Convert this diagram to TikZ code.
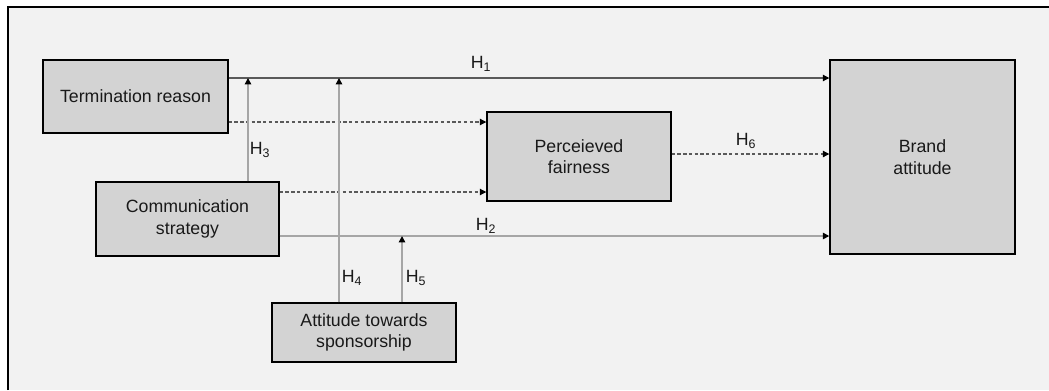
\documentclass[tikz,border=0pt]{standalone}
\usepackage{fontspec}
\setmainfont{Liberation Sans}
\usepackage{tikz}
\usetikzlibrary{arrows.meta,positioning}
\definecolor{bggray}{RGB}{242,242,242}
\definecolor{boxgray}{RGB}{211,211,211}
\definecolor{darkline}{RGB}{90,90,90}
\definecolor{lightline}{RGB}{166,166,166}

\begin{document}
\begin{tikzpicture}[x=0.75pt,y=-0.75pt,
	>={Triangle[length=4.8pt,width=4.8pt,color=black]},
	every node/.style={font=\fontsize{13.3}{16}\selectfont, text=black!90},
	var/.style={draw=black, line width=1.1pt, fill=boxgray, inner sep=0pt, align=center},
	mainpath/.style={->, darkline, line width=0.8pt},
	modpath/.style={->, lightline, line width=1.1pt},
	medpath/.style={->, darkline, line width=0.8pt, dash pattern=on 2.5pt off 1.8pt},
	hyp/.style={inner sep=0pt}]

	% frame
	\useasboundingbox (0,0) rectangle (1049,390);
	\fill[white] (0,0) rectangle (1049,390);
	\fill[bggray] (7,6) rectangle (1049,390);
	\draw[black, line width=1.5pt] (7.5,390) -- (7.5,6.5) -- (1049,6.5);

	% variables
	\node[var, minimum width=138.75pt, minimum height=54.75pt] (term) at (135.5,96.5) {Termination reason};
	\node[var, minimum width=137.25pt, minimum height=55.5pt] (comm) at (187.5,219) {Communication\\strategy};
	\node[var, minimum width=138pt, minimum height=44.25pt] (spons) at (364,332.5) {Attitude towards\\sponsorship};
	\node[var, minimum width=138pt, minimum height=66.75pt] (fair) at (579,156.5) {Perceieved\\fairness};
	\node[var, minimum width=138.75pt, minimum height=145.5pt] (brand) at (922.5,157) {Brand\\attitude};

	% levels of the connectors
	\coordinate (yh1) at (0,78);
	\coordinate (yd1) at (0,122);
	\coordinate (yd2) at (0,192);
	\coordinate (yh6) at (0,154);
	\coordinate (yh2) at (0,236);
	\coordinate (xh3) at (248,0);
	\coordinate (xh4) at (339,0);
	\coordinate (xh5) at (402,0);

	% direct effects
	\draw[mainpath] (term.east |- yh1) -- (brand.west |- yh1);
	\draw[modpath] (comm.east |- yh2) -- (brand.west |- yh2);

	% mediation
	\draw[medpath] (term.east |- yd1) -- (fair.west |- yd1);
	\draw[medpath] (comm.east |- yd2) -- (fair.west |- yd2);
	\draw[medpath] (fair.east |- yh6) -- (brand.west |- yh6);

	% moderation
	\draw[modpath] (comm.north -| xh3) -- (xh3 |- yh1);
	\draw[modpath] (spons.north -| xh4) -- (xh4 |- yh1);
	\draw[modpath] (spons.north -| xh5) -- (xh5 |- yh2);

	% hypotheses
	\node[hyp] (h1) at (481,64) {H\textsubscript{1}};
	\node[hyp] (h2) at (486,226) {H\textsubscript{2}};
	\node[hyp] (h3) at (260,150) {H\textsubscript{3}};
	\node[hyp] (h4) at (352,278) {H\textsubscript{4}};
	\node[hyp] (h5) at (416,278) {H\textsubscript{5}};
	\node[hyp] (h6) at (746,141) {H\textsubscript{6}};
\end{tikzpicture}
\end{document}
